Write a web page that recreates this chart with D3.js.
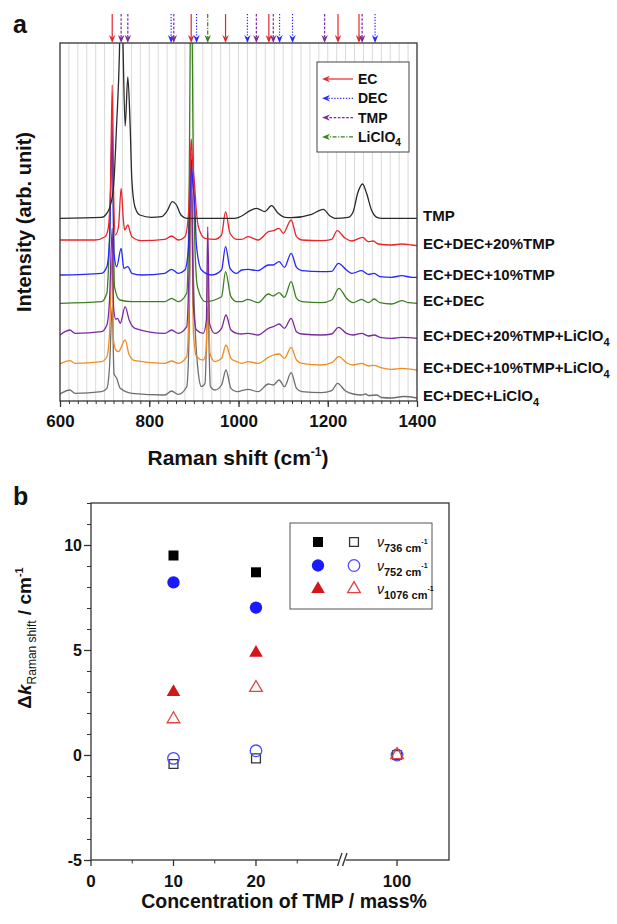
<!DOCTYPE html>
<html>
<head>
<meta charset="utf-8">
<script src="https://cdn.jsdelivr.net/npm/d3@7"></script>
<style>
  body { margin: 0; background: #fff; }
  text { font-family: "Liberation Sans", Arial, sans-serif; font-weight: bold; fill: #111; }
</style>
</head>
<body>
<div id="chart"></div>
<script>
// ---- panel a : Raman spectra, [wavenumber, intensity] ----
var specTMP = [[600,182.7],[693,183.7],[705,187.7],[712,194.3],[720,214.3],[727,277.7],[733,345],[737,440],[741,360],[746,275],[752,324],[757,278],[761,221],[768,194],[779,186],[805,183.7],[828,184.3],[839,189.3],[852,199.3],[861,196],[871,186],[884,182.7],[950,182.7],[992,182.7],[1007,185],[1026,190.3],[1041,192.7],[1059,189.3],[1074,195.3],[1089,187.7],[1104,183.7],[1118,183.3],[1164,186.7],[1190,191.7],[1205,185],[1216,182.7],[1246,183.7],[1257,189.3],[1267,207.7],[1278,217],[1287,207.7],[1298,191],[1310,183.7],[1321,182.7],[1400,182.7]];
var spec20TMP = [[600,161],[678,161],[701,164.3],[708,172.7],[713,211],[717,316],[720,211],[724,166],[731,174],[737,212.7],[742,181],[745,171],[752,176],[757,169.3],[761,164.3],[783,160.3],[835,161.7],[850,165],[865,161],[880,164.3],[888,187.7],[891,225],[894,262],[897,240],[901,219],[906,187.7],[910,174.3],[925,162.7],[947,161.7],[962,166],[971,189.3],[981,167.7],[996,161.7],[1007,161.7],[1022,164.3],[1044,161],[1067,169.3],[1078,170.3],[1091,172.7],[1100,167.7],[1118,181],[1130,164.3],[1142,161],[1186,160.3],[1209,161.7],[1221,170.3],[1239,162.7],[1254,160],[1278,163.7],[1291,159.3],[1302,160],[1313,157],[1343,156],[1366,157],[1388,156],[1400,155.3]];
var spec10TMP = [[600,126],[693,127.7],[705,134.3],[711,161],[717,277.7],[721,147.7],[727,134.3],[737,152.7],[743,132.7],[752,134.3],[761,127.7],[783,126],[835,127.7],[850,131.7],[865,127.7],[880,131],[888,154.3],[894,241],[898,215],[901,204.3],[906,154.3],[917,131],[940,126],[962,131],[971,154.3],[981,132.7],[996,127.7],[1007,131],[1021,131.7],[1044,130.3],[1067,136],[1078,136],[1091,139.3],[1103,133.7],[1118,147.7],[1130,133.7],[1142,130.3],[1186,129.3],[1209,129.7],[1224,137.7],[1242,131],[1254,127.7],[1276,130.3],[1291,126.7],[1304,127.7],[1317,124.3],[1343,123.7],[1366,125.3],[1388,123.7],[1400,123.7]];
var specECDEC = [[600,97.7],[693,99.3],[705,107.7],[711,161],[717,264.3],[722,114.3],[734,101],[761,99.3],[835,99.3],[850,102.7],[865,99.3],[884,107.7],[889,194],[894,440],[899,227.7],[902,161],[908,114.3],[925,99.3],[962,104.3],[971,129.3],[983,104.3],[996,99.3],[1007,99.3],[1021,101.7],[1044,98.3],[1067,107],[1078,105],[1091,108.3],[1103,103.7],[1118,119.3],[1130,102.7],[1142,99.3],[1186,98.3],[1209,101],[1225,112.7],[1242,102.7],[1257,98.3],[1276,101.7],[1291,98.3],[1304,102],[1317,98.3],[1343,97],[1366,100.3],[1381,98.3],[1400,97.7]];
var spec20TMPLi = [[600,66],[611,69.3],[622,71],[634,67.7],[693,69.3],[705,76],[711,101],[717,172.7],[720,94.3],[725,81.7],[729,82.7],[735,77.7],[746,94.3],[755,81],[768,72.7],[835,67.7],[850,71],[865,67.7],[884,74.3],[889,127.7],[894,248],[899,94.3],[906,71],[921,67.7],[928,81],[931,174.3],[935,77.7],[947,67.7],[962,72.7],[972,86],[983,71],[996,67.7],[1007,67],[1021,67.7],[1044,66],[1067,72.7],[1078,74.3],[1091,77],[1103,72.7],[1118,82.7],[1130,69.3],[1142,67],[1186,66],[1209,67],[1224,73.7],[1242,67.7],[1257,66],[1276,67.7],[1291,65],[1304,66],[1317,63.7],[1343,62.7],[1366,63.7],[1400,62.7]];
var spec10TMPLi = [[600,37],[622,40.3],[634,37.7],[693,39.3],[705,44.3],[711,67.7],[717,144.3],[720,61],[725,51],[731,49.3],[746,61],[755,46],[768,40.3],[835,37.7],[850,40],[865,37.7],[884,44.3],[889,94.3],[894,226],[899,67.7],[906,44.3],[921,41],[928,51],[931,134.3],[936,47.7],[947,39.3],[962,42.7],[972,56],[983,42.7],[996,39.3],[1007,37.7],[1021,39.3],[1044,37.7],[1067,43.7],[1078,46],[1091,47],[1103,42.7],[1118,53.7],[1130,41],[1142,37.7],[1186,36],[1209,38.3],[1225,44.3],[1242,38.3],[1257,36],[1276,37.7],[1291,35],[1304,35.7],[1317,33.7],[1343,31.7],[1366,32.7],[1400,31]];
var specLi = [[600,7],[622,11],[634,7.7],[693,9.3],[705,12.7],[711,34.3],[717,94.3],[721,27.7],[727,22.7],[735,12.7],[761,7.7],[835,6],[850,10],[865,6.7],[884,14.3],[889,61],[894,221],[899,120],[903,71],[910,27.7],[917,14.3],[925,17.7],[931,94.3],[937,14.3],[947,11],[962,16],[972,31],[983,12.7],[996,9.3],[1007,10.3],[1021,11.7],[1044,9.3],[1067,17],[1078,16],[1091,21],[1103,14.3],[1118,28.3],[1130,12.7],[1142,9.3],[1186,8.3],[1209,10.3],[1222,17.7],[1239,10.3],[1257,7],[1276,6],[1285,7],[1291,5.5],[1310,6],[1320,3.5],[1343,3],[1370,4.5],[1400,3]];

var specNames = ['TMP', 'EC+DEC+20%TMP', 'EC+DEC+10%TMP', 'EC+DEC', 'EC+DEC+20%TMP+LiClO4', 'EC+DEC+10%TMP+LiClO4', 'EC+DEC+LiClO4'];
var specData = [specTMP, spec20TMP, spec10TMP, specECDEC, spec20TMPLi, spec10TMPLi, specLi];
var specColors = ['#2a2a2a', '#e8262b', '#2626ff', '#3a7f1e', '#7a2a9c', '#f28c1e', '#6e6e6e'];

// band markers (arrows on top)
var ecBands = [717, 894, 971, 1068, 1223, 1270];
var decBands = [849, 906, 1020, 1092, 1121, 1306];
var tmpBands = [737, 752, 855, 1040, 1078, 1193, 1277];
var liBands = [931];
var bandNames = ['EC', 'DEC', 'TMP', 'LiClO4'];

// ---- panel b : Raman shift vs TMP concentration ----
var concX = [10, 20, 100];
var shift736Li = [9.5, 8.7, null];
var shift736 = [-0.43, -0.16, 0];
var shift752Li = [8.22, 7.02, null];
var shift752 = [-0.16, 0.2, 0];
var shift1076Li = [3.0, 4.87, null];
var shift1076 = [1.71, 3.2, 0];
var legendBands = ['736', '752', '1076'];

var width = 617, height = 924;
var svg = d3.select('#chart').append('svg')
  .attr('width', width)
  .attr('height', height);

function drawArrow(g, x1, y1, x2, y2, color, dash) {
  var dx = x2 - x1, dy = y2 - y1, len = Math.sqrt(dx * dx + dy * dy);
  var ux = dx / len, uy = dy / len, hl = 8, hw = 3.2;
  var bx = x2 - ux * hl, by = y2 - uy * hl;
  g.append('line')
    .attr('x1', x1).attr('y1', y1).attr('x2', bx + ux * 2).attr('y2', by + uy * 2)
    .attr('stroke', color).attr('stroke-width', 1.2)
    .attr('stroke-dasharray', dash);
  g.append('path')
    .attr('d', 'M' + x2 + ',' + y2 + 'L' + (bx - uy * hw) + ',' + (by + ux * hw) +
      'L' + (bx + ux * 2.5) + ',' + (by + uy * 2.5) + 'L' + (bx + uy * hw) + ',' + (by - ux * hw) + 'Z')
    .attr('fill', color);
}

function addLiClO4(sel, label, subSize, shift) {
  if (label.slice(-1) === '4' && label.indexOf('LiClO') >= 0) {
    sel.append('tspan').text(label.slice(0, -1));
    sel.append('tspan').attr('font-size', subSize).attr('dy', shift).text('4');
  } else {
    sel.text(label);
  }
}

// plain hyphen minus, no thousands separator
function plain(d) { return String(d); }

// ================= panel a =================
var xA = d3.scaleLinear().domain([600, 1400]).range([60, 417]);
var yA = d3.scaleLinear().domain([0, 358]).range([401, 43]);

var ga = svg.append('g');

ga.append('defs').append('clipPath').attr('id', 'clipA')
  .append('rect').attr('x', xA(600)).attr('y', yA(358))
  .attr('width', xA(1400) - xA(600)).attr('height', yA(0) - yA(358));

// light vertical grid
ga.append('g').selectAll('line')
  .data(d3.range(620, 1400, 20))
  .enter().append('line')
  .attr('x1', function(d) { return xA(d); })
  .attr('x2', function(d) { return xA(d); })
  .attr('y1', yA(0)).attr('y2', yA(358))
  .attr('stroke', '#d9d9d9').attr('stroke-width', 1);

var line = d3.line()
  .x(function(d) { return xA(d[0]); })
  .y(function(d) { return yA(d[1]); })
  .curve(d3.curveMonotoneX);

var order = [6, 5, 4, 3, 2, 1, 0];
ga.append('g').attr('clip-path', 'url(#clipA)')
  .selectAll('path')
  .data(order)
  .enter().append('path')
  .attr('d', function(i) { return line(specData[i]); })
  .attr('fill', 'none')
  .attr('stroke', function(i) { return specColors[i]; })
  .attr('stroke-width', 1.3);

// series labels at right
specNames.forEach(function(name, i) {
  var last = specData[i][specData[i].length - 1];
  var t = ga.append('text')
    .attr('x', 423)
    .attr('y', yA(last[1]) + 3)
    .attr('font-size', 15);
  addLiClO4(t, name, 11, 5);
});

// frame
ga.append('rect')
  .attr('x', xA(600)).attr('y', yA(358))
  .attr('width', xA(1400) - xA(600)).attr('height', yA(0) - yA(358))
  .attr('fill', 'none').attr('stroke', '#333').attr('stroke-width', 1.3);

// x axis
var axA = ga.append('g').attr('transform', 'translate(0,' + yA(0) + ')')
  .call(d3.axisBottom(xA).tickValues([600, 800, 1000, 1200, 1400]).tickSize(6).tickFormat(plain));
axA.select('.domain').remove();
axA.selectAll('line').attr('stroke', '#333').attr('stroke-width', 1.3);
axA.selectAll('text').attr('y', 26).attr('dy', 0)
  .attr('font-size', 17).attr('font-family', '"Liberation Sans", Arial, sans-serif').attr('fill', '#111');

var axAm = ga.append('g').attr('transform', 'translate(0,' + yA(0) + ')')
  .call(d3.axisBottom(xA).tickValues(d3.range(620, 1400, 20)).tickSize(3).tickFormat(''));
axAm.select('.domain').remove();
axAm.selectAll('line').attr('stroke', '#333');

var xl = ga.append('text').attr('x', 238).attr('y', 465).attr('text-anchor', 'middle').attr('font-size', 21);
xl.append('tspan').text('Raman shift (cm');
xl.append('tspan').attr('font-size', 12).attr('dy', -9).text('-1');
xl.append('tspan').attr('dy', 9).text(')');

ga.append('text')
  .attr('transform', 'translate(31,222) rotate(-90)')
  .attr('text-anchor', 'middle').attr('font-size', 20)
  .text('Intensity (arb. unit)');

ga.append('text').attr('x', 13).attr('y', 33).attr('font-size', 25).text('a');

// band arrows
var bandGroups = [ecBands, decBands, tmpBands, liBands];
var bandColors = ['#e3262b', '#2a2aff', '#7a2a9c', '#3a7f1e'];
var bandDash = [null, '1.3,1.6', '2.6,1.6', '4,1.5,1.2,1.5'];
var ar = ga.append('g');
bandGroups.forEach(function(bands, k) {
  bands.forEach(function(b) {
    drawArrow(ar, xA(b), 14, xA(b), 43, bandColors[k], bandDash[k]);
  });
});

// legend
var lg = ga.append('g');
lg.append('rect').attr('x', 317).attr('y', 62).attr('width', 92).attr('height', 90)
  .attr('fill', '#fff').attr('stroke', '#444').attr('stroke-width', 1);
bandNames.forEach(function(name, k) {
  var yy = 79 + k * 19.3;
  drawArrow(lg, 353, yy, 322, yy, bandColors[k], bandDash[k]);
  var t = lg.append('text').attr('x', 358).attr('y', yy + 5).attr('font-size', 14);
  addLiClO4(t, name, 10, 4);
});

// ================= panel b =================
var xB1 = d3.scaleLinear().domain([0, 30.5]).range([91, 342.6]);
var xB2 = d3.scaleLinear().domain([93.4, 106.3]).range([342.6, 449]);
function xB(v) { return v <= 50 ? xB1(v) : xB2(v); }
var yB = d3.scaleLinear().domain([-5, 12]).range([860, 503]);

var gb = svg.append('g');

gb.append('text').attr('x', 13).attr('y', 505).attr('font-size', 25).text('b');

// y axis
var ayB = gb.append('g').attr('transform', 'translate(' + xB(0) + ',0)')
  .call(d3.axisLeft(yB).tickValues([-5, 0, 5, 10]).tickSize(7).tickPadding(2).tickFormat(plain));
ayB.select('.domain').remove();
ayB.selectAll('line').attr('stroke', '#333').attr('stroke-width', 1.3);
ayB.selectAll('text').attr('font-size', 16)
  .attr('font-family', '"Liberation Sans", Arial, sans-serif').attr('fill', '#111');
var ayBm = gb.append('g').attr('transform', 'translate(' + xB(0) + ',0)')
  .call(d3.axisLeft(yB).tickValues(d3.range(-5, 13, 1)).tickSize(4).tickFormat(''));
ayBm.select('.domain').remove();
ayBm.selectAll('line').attr('stroke', '#333');

// frame
gb.append('rect')
  .attr('x', xB(0)).attr('y', yB(12))
  .attr('width', 449 - xB(0)).attr('height', yB(-5) - yB(12))
  .attr('fill', 'none').attr('stroke', '#333').attr('stroke-width', 1.3);

// x ticks (broken axis)
var majorX = [0, 10, 20, 100];
var minorX = [5, 15, 25];
gb.selectAll('.xmaj').data(majorX).enter().append('line')
  .attr('x1', xB).attr('x2', xB).attr('y1', yB(-5)).attr('y2', yB(-5) + 6)
  .attr('stroke', '#333').attr('stroke-width', 1.3);
gb.selectAll('.xmin').data(minorX).enter().append('line')
  .attr('x1', xB).attr('x2', xB).attr('y1', yB(-5)).attr('y2', yB(-5) + 3.5)
  .attr('stroke', '#333');
gb.selectAll('.xlab').data(majorX).enter().append('text')
  .attr('x', xB).attr('y', 887).attr('text-anchor', 'middle').attr('font-size', 17)
  .text(function(d) { return d; });

// break mark
gb.append('rect').attr('x', 338.5).attr('y', 857).attr('width', 7).attr('height', 6).attr('fill', '#fff');
[337.5, 342.5].forEach(function(bx) {
  gb.append('line').attr('x1', bx).attr('y1', 866).attr('x2', bx + 4.5).attr('y2', 853)
    .attr('stroke', '#333').attr('stroke-width', 1.3);
});

gb.append('text').attr('x', 284).attr('y', 908).attr('text-anchor', 'middle')
  .attr('font-size', 19.5).text('Concentration of TMP / mass%');

var yl = gb.append('text').attr('transform', 'translate(31,638) rotate(-90)')
  .attr('text-anchor', 'middle').attr('font-size', 19);
yl.append('tspan').text('\u0394');
yl.append('tspan').attr('font-style', 'italic').text('k');
yl.append('tspan').attr('font-size', 12).attr('font-weight', 'normal').attr('dy', 5).text('Raman shift');
yl.append('tspan').attr('dy', -5).text(' / cm');
yl.append('tspan').attr('font-size', 11).attr('dy', -8).text('-1');

// markers
var sq = d3.symbol().type(d3.symbolSquare).size(100)();
var sqOpen = d3.symbol().type(d3.symbolSquare).size(78)();
var ci = d3.symbol().type(d3.symbolCircle).size(120)();
var ciOpen = d3.symbol().type(d3.symbolCircle).size(105)();
var tri = d3.symbol().type(d3.symbolTriangle).size(80)();
var triOpen = d3.symbol().type(d3.symbolTriangle).size(70)();

var markerSets = [
  { vals: shift736Li, path: sq, fill: '#000', stroke: 'none' },
  { vals: shift736, path: sqOpen, fill: 'none', stroke: '#333' },
  { vals: shift752Li, path: ci, fill: '#1a1aff', stroke: 'none' },
  { vals: shift752, path: ciOpen, fill: 'none', stroke: '#4a4aff' },
  { vals: shift1076Li, path: tri, fill: '#d4161c', stroke: 'none' },
  { vals: shift1076, path: triOpen, fill: 'none', stroke: '#e04444' }
];

markerSets.forEach(function(m) {
  var pts = concX.map(function(c, i) { return [c, m.vals[i]]; })
    .filter(function(p) { return p[1] !== null; });
  gb.append('g').selectAll('path').data(pts).enter().append('path')
    .attr('transform', function(d) { return 'translate(' + xB(d[0]) + ',' + yB(d[1]) + ')'; })
    .attr('d', m.path)
    .attr('fill', m.fill).attr('stroke', m.stroke).attr('stroke-width', 1.3);
});

// legend b
var lb = gb.append('g');
lb.append('rect').attr('x', 290).attr('y', 523).attr('width', 142).attr('height', 86)
  .attr('fill', '#fff').attr('stroke', '#555').attr('stroke-width', 1);
legendBands.forEach(function(b, k) {
  var yy = 542 + k * 23.5;
  var filled = markerSets[k * 2], open = markerSets[k * 2 + 1];
  lb.append('path').attr('transform', 'translate(318,' + yy + ')').attr('d', filled.path)
    .attr('fill', filled.fill);
  lb.append('path').attr('transform', 'translate(354,' + yy + ')').attr('d', open.path)
    .attr('fill', 'none').attr('stroke', open.stroke).attr('stroke-width', 1.3);
  var t = lb.append('text').attr('x', 377).attr('y', yy + 5).attr('font-size', 14);
  t.append('tspan').attr('font-style', 'italic').attr('font-weight', 'normal').text('\u03bd');
  t.append('tspan').attr('font-size', 11).attr('dy', 5).text(b + ' cm');
  t.append('tspan').attr('font-size', 7).attr('dy', -8).text('-1');
});
</script>
</body>
</html>
